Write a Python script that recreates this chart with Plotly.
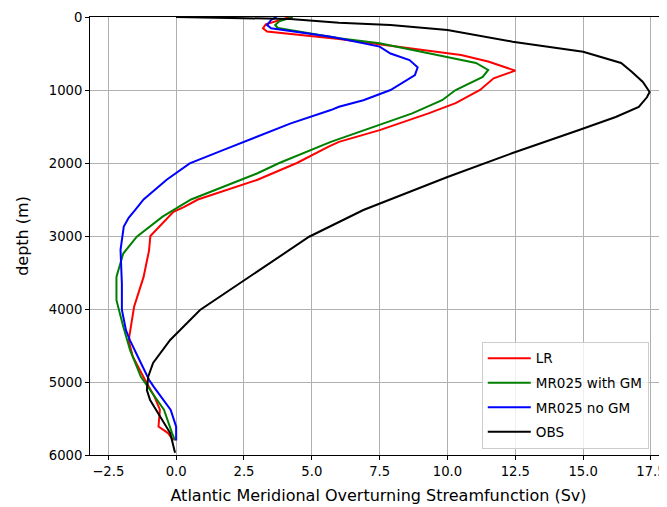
import plotly.graph_objects as go

# LR
lr_depth = [0, 30, 100, 155, 200, 300, 400, 520, 610, 735, 840, 1000, 1180, 1320, 1550, 1710, 1780, 2000, 2230, 2500, 2600, 2670, 3000, 3200, 3560, 3970, 4430, 4650, 4970, 5200, 5380, 5610, 5700, 5800]
lr_sv = [4.2, 3.9, 3.3, 3.2, 3.35, 6.0, 8.1, 10.5, 11.5, 12.5, 11.7, 11.2, 10.3, 9.3, 7.5, 6.0, 5.6, 4.45, 3.0, 0.8, 0.3, -0.1, -0.95, -1.0, -1.2, -1.55, -1.75, -1.6, -1.15, -0.8, -0.6, -0.65, -0.3, -0.1]

# MR025 with GM
gm_depth = [0, 60, 110, 150, 290, 360, 500, 630, 725, 820, 1000, 1140, 1320, 1550, 1710, 2000, 2140, 2500, 2640, 2735, 3010, 3240, 3560, 3880, 4240, 4560, 4930, 5110, 5380, 5700, 5800]
gm_sv = [4.3, 3.8, 3.65, 3.75, 6.0, 7.5, 9.35, 11.05, 11.5, 11.3, 10.3, 9.8, 8.7, 6.9, 5.7, 3.8, 3.0, 0.55, -0.1, -0.5, -1.45, -1.95, -2.2, -2.2, -1.95, -1.7, -1.3, -0.95, -0.45, -0.15, -0.04]

# MR025 no GM
nogm_depth = [0, 40, 110, 155, 270, 290, 405, 500, 590, 690, 795, 1000, 1140, 1230, 1275, 1460, 1820, 2005, 2230, 2500, 2640, 2750, 2870, 3190, 3650, 4010, 4290, 4430, 4740, 4970, 5064, 5384, 5612, 5800]
nogm_sv = [3.7, 3.5, 3.35, 3.5, 5.7, 6.0, 7.5, 7.9, 8.6, 8.9, 8.8, 7.9, 6.9, 6.0, 5.7, 4.2, 1.75, 0.5, -0.35, -1.2, -1.5, -1.75, -1.93, -2.05, -2.0, -2.0, -1.85, -1.7, -1.3, -1.0, -0.83, -0.2, 0.0, 0.0]

# OBS
obs_depth = [0, 27, 78, 110, 178, 338, 475, 630, 753, 890, 1027, 1100, 1233, 1370, 1548, 1863, 2192, 2644, 3010, 3626, 4014, 4425, 4740, 4927, 5110, 5247, 5475, 5700, 5970]
obs_sv = [0.0, 4.2, 6.0, 7.9, 10.0, 12.4, 15.0, 16.4, 16.8, 17.2, 17.45, 17.35, 17.05, 16.2, 14.85, 12.4, 10.0, 6.9, 4.9, 2.45, 0.88, -0.22, -0.85, -1.03, -1.08, -0.96, -0.59, -0.22, -0.04]

series = [
    ("LR", lr_sv, lr_depth, "red"),
    ("MR025 with GM", gm_sv, gm_depth, "green"),
    ("MR025 no GM", nogm_sv, nogm_depth, "blue"),
    ("OBS", obs_sv, obs_depth, "black"),
]

x_ticks = [-2.5, 0.0, 2.5, 5.0, 7.5, 10.0, 12.5, 15.0, 17.5]
y_ticks = [0, 1000, 2000, 3000, 4000, 5000, 6000]

fig = go.Figure()
for name, xs, ys, c in series:
    fig.add_trace(go.Scatter(x=xs, y=ys, mode="lines", name=name, legendgroup=name,
                             line=dict(color=c, width=2)))

# page body has an 8px margin, so the figure is made smaller to land the plot
# area where it sits in the reference
font = dict(family="DejaVu Sans", size=13.5, color="black")
fig.update_layout(
    width=664, height=499,
    margin=dict(l=82, r=5, t=9, b=52),
    paper_bgcolor="white", plot_bgcolor="white",
    font=font,
    showlegend=True,
    legend=dict(x=0.679, y=0.014, xanchor="left", yanchor="bottom",
                bgcolor="rgba(255,255,255,0.8)", bordercolor="#cccccc", borderwidth=1,
                font=dict(family="DejaVu Sans", size=13.5, color="black"),
                tracegroupgap=4, itemwidth=43),
)
fig.update_xaxes(range=[-3.175, 18.09], tickvals=x_ticks,
                 ticktext=[f"{v:.1f}".replace("-", "\u2212") for v in x_ticks],
                 ticklabeloverflow="allow",
                 tickfont=dict(size=13.2),
                 showgrid=True, gridcolor="#b0b0b0", gridwidth=1,
                 showline=True, linecolor="black", linewidth=1, mirror=True,
                 ticks="outside", ticklen=4, tickcolor="black",
                 zeroline=False, automargin=False,
                 title=dict(text="Atlantic Meridional Overturning Streamfunction (Sv)", standoff=11))
fig.update_yaxes(range=[6000, 0], tickvals=y_ticks, ticktext=[str(v) for v in y_ticks],
                 tickfont=dict(size=13.2),
                 showgrid=True, gridcolor="#b0b0b0", gridwidth=1,
                 showline=True, linecolor="black", linewidth=1, mirror=False,
                 ticks="outside", ticklen=4, tickcolor="black",
                 zeroline=False, automargin=False,
                 title=dict(text="depth (m)", standoff=16))
fig.write_html("out.html")
